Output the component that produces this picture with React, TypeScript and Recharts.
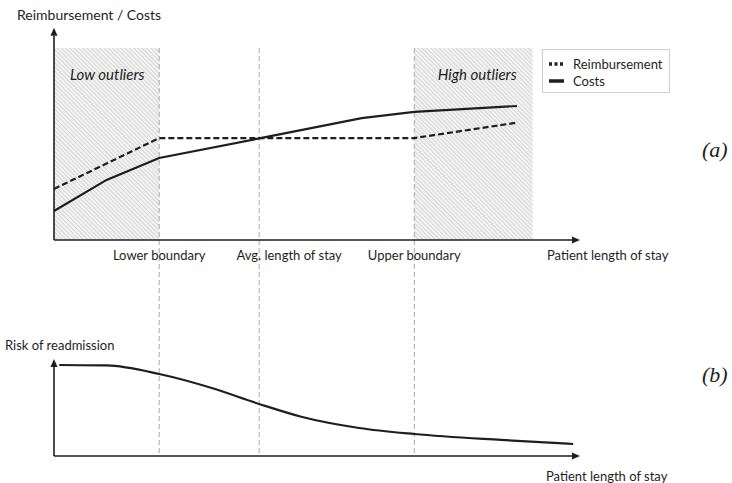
import React from "react"
import { LineChart, Line, XAxis, YAxis, ReferenceArea, ReferenceLine, Legend, Label } from "recharts"

// length of stay (x) positions and values, both on a 0-100 scale
const costStay = [0, 10, 20, 39, 58.5, 68.5, 88]
const costValues = [15.1, 31.3, 42.7, 52.9, 63.5, 66.7, 69.8]
const reimbursementStay = [0, 20, 68.5, 88]
const reimbursementValues = [26.6, 53.1, 53.1, 61.1]
const riskStay = [1, 10, 20, 30, 39, 47, 58, 68.5, 85, 98.7]
const riskValues = [94.8, 94.3, 85.4, 70.8, 54.2, 40.9, 29.2, 22.9, 16.7, 12.5]

const boundaryStay = [20, 39, 68.5]
const boundaryLabels = ["Lower boundary", "Avg. length of stay", "Upper boundary"]
const outlierRanges = [
  [0, 20],
  [68.5, 91],
]
const outlierLabels = ["Low outliers", "High outliers"]
const seriesNames = ["Reimbursement", "Costs"]
const xTitle = "Patient length of stay"
const topYTitle = "Reimbursement / Costs"
const bottomYTitle = "Risk of readmission"

const costData = costStay.map((stay, i) => ({ stay, value: costValues[i] }))
const reimbursementData = reimbursementStay.map((stay, i) => ({ stay, value: reimbursementValues[i] }))
const riskData = riskStay.map((stay, i) => ({ stay, value: riskValues[i] }))

const FONT = "Lato, 'Open Sans', sans-serif"
const INK = "#1e1e1e"
// value of the upper chart's y scale at the lower chart's x axis
const LOWER_AXIS_IN_TOP = -112.5

const ArrowLine = (props: any) => {
  const { x1, y1, x2, y2 } = props
  const ang = Math.atan2(y2 - y1, x2 - x1)
  const len = 8
  const half = 3.5
  const bx = x2 - len * Math.cos(ang)
  const by = y2 - len * Math.sin(ang)
  const px = -Math.sin(ang) * half
  const py = Math.cos(ang) * half
  return (
    <g>
      <line x1={x1} y1={y1} x2={bx} y2={by} stroke={INK} strokeWidth={1.6} />
      <polygon points={`${x2},${y2} ${bx + px},${by + py} ${bx - px},${by - py}`} fill={INK} />
    </g>
  )
}

const TopTick = (props: any) => {
  const { x, y, index } = props
  const last = index === boundaryStay.length
  const label = last ? xTitle : boundaryLabels[index]
  const dx = last ? -33 : index === 1 ? 30 : 0
  return (
    <text x={x + dx} y={y + 12} textAnchor={last ? "start" : "middle"} fontFamily={FONT} fontSize={13} fill={INK}>
      {label}
    </text>
  )
}

const BottomTick = (props: any) => {
  const { x, y } = props
  return (
    <text x={x - 34} y={y + 17} textAnchor="start" fontFamily={FONT} fontSize={13} fill={INK}>
      {xTitle}
    </text>
  )
}

const renderLegend = () => (
  <div
    style={{
      border: "1px solid #cfcfcf",
      background: "#fff",
      padding: "5px 6px",
      width: 128,
      height: 44,
      boxSizing: "border-box",
      fontFamily: FONT,
      fontSize: 13,
      color: INK,
    }}
  >
    {seriesNames.map((name, i) => (
      <div key={name} style={{ display: "flex", alignItems: "center", height: 17 }}>
        <svg width={16} height={6}>
          <line x1={0} y1={3} x2={15} y2={3} stroke={INK} strokeWidth={3.5} strokeDasharray={i === 0 ? "3 2.5" : undefined} />
        </svg>
        <span style={{ marginLeft: 8 }}>{name}</span>
      </div>
    ))}
  </div>
)

const outlierLabel = (i: number) => (p: any) => {
  const vb = p.viewBox
  const left = i === 0
  return (
    <text
      x={left ? vb.x + 16 : vb.x + vb.width - 16}
      y={vb.y + 32}
      textAnchor={left ? "start" : "end"}
      fontFamily={FONT}
      fontStyle="italic"
      fontSize={15}
      fill={INK}
    >
      {outlierLabels[i]}
    </text>
  )
}

const textStyle: React.CSSProperties = {
  position: "absolute",
  fontFamily: FONT,
  fontSize: 13,
  color: INK,
  lineHeight: "16px",
  whiteSpace: "nowrap",
}

const panelStyle: React.CSSProperties = {
  position: "absolute",
  fontFamily: "'Liberation Serif', serif",
  fontStyle: "italic",
  fontSize: 22,
  color: INK,
  lineHeight: "24px",
}

export default function App() {
  return (
    <div style={{ position: "absolute", left: 0, top: 0, width: 732, height: 483, background: "#fff" }}>
      <div style={{ position: "absolute", left: 0, top: 0 }}>
        <LineChart width={732} height={483} margin={{ top: 48, right: 152, bottom: 213, left: 54 }}>
          <defs>
            <pattern id="hatch" width="3" height="3" patternUnits="userSpaceOnUse" patternTransform="rotate(-45)">
              <rect width="3" height="3" fill="#f3f3f3" />
              <line x1="0" y1="0" x2="0" y2="3" stroke="#b8b8b8" strokeWidth="1" />
            </pattern>
          </defs>
          <XAxis
            type="number"
            dataKey="stay"
            domain={[0, 100]}
            ticks={[...boundaryStay, 100]}
            axisLine={false}
            tickLine={false}
            tick={<TopTick />}
            height={30}
            allowDuplicatedCategory={false}
          />
          <YAxis type="number" domain={[0, 100]} hide />
          {outlierRanges.map((r, i) => (
            <ReferenceArea key={i} x1={r[0]} x2={r[1]} y1={0} y2={100} fill="url(#hatch)" fillOpacity={1} stroke="none">
              <Label content={outlierLabel(i)} />
            </ReferenceArea>
          ))}
          {boundaryStay.map((b) => (
            <ReferenceLine
              key={b}
              segment={[
                { x: b, y: 100 },
                { x: b, y: LOWER_AXIS_IN_TOP },
              ]}
              ifOverflow="visible"
              stroke="#a8a8a8"
              strokeDasharray="5 3"
              strokeWidth={1}
            />
          ))}
          <ReferenceLine
            segment={[
              { x: 0, y: 0 },
              { x: 0, y: 110.5 },
            ]}
            ifOverflow="visible"
            shape={ArrowLine}
          />
          <ReferenceLine
            segment={[
              { x: 0, y: 0 },
              { x: 100, y: 0 },
            ]}
            ifOverflow="visible"
            shape={ArrowLine}
          />
          <Line
            data={reimbursementData}
            dataKey="value"
            name={seriesNames[0]}
            type="linear"
            stroke={INK}
            strokeWidth={2.2}
            strokeDasharray="6 3"
            dot={false}
            isAnimationActive={false}
          />
          <Line
            data={costData}
            dataKey="value"
            name={seriesNames[1]}
            type="linear"
            stroke={INK}
            strokeWidth={2.2}
            dot={false}
            isAnimationActive={false}
          />
          <Legend
            content={renderLegend}
            layout="horizontal"
            align="center"
            verticalAlign="middle"
            wrapperStyle={{ left: 542, top: 49, width: 128, height: 44 }}
          />
        </LineChart>
      </div>
      <div style={{ position: "absolute", left: 0, top: 0 }}>
        <LineChart width={732} height={483} margin={{ top: 360, right: 152, bottom: 7, left: 54 }}>
          <XAxis
            type="number"
            dataKey="stay"
            domain={[0, 100]}
            ticks={[100]}
            axisLine={false}
            tickLine={false}
            tick={<BottomTick />}
            height={20}
          />
          <YAxis type="number" domain={[0, 100]} hide />
          <ReferenceLine
            segment={[
              { x: 0, y: 0 },
              { x: 0, y: 101 },
            ]}
            ifOverflow="visible"
            shape={ArrowLine}
          />
          <ReferenceLine
            segment={[
              { x: 0, y: 0 },
              { x: 100, y: 0 },
            ]}
            ifOverflow="visible"
            shape={ArrowLine}
          />
          <Line
            data={riskData}
            dataKey="value"
            type="monotone"
            stroke={INK}
            strokeWidth={2.2}
            dot={false}
            isAnimationActive={false}
          />
        </LineChart>
      </div>
      <div style={{ ...textStyle, fontSize: 14, left: 17, top: 7 }}>{topYTitle}</div>
      <div style={{ ...textStyle, left: 5, top: 337 }}>{bottomYTitle}</div>
      <div style={{ ...panelStyle, left: 702, top: 138 }}>(a)</div>
      <div style={{ ...panelStyle, left: 702, top: 363 }}>(b)</div>
    </div>
  )
}
